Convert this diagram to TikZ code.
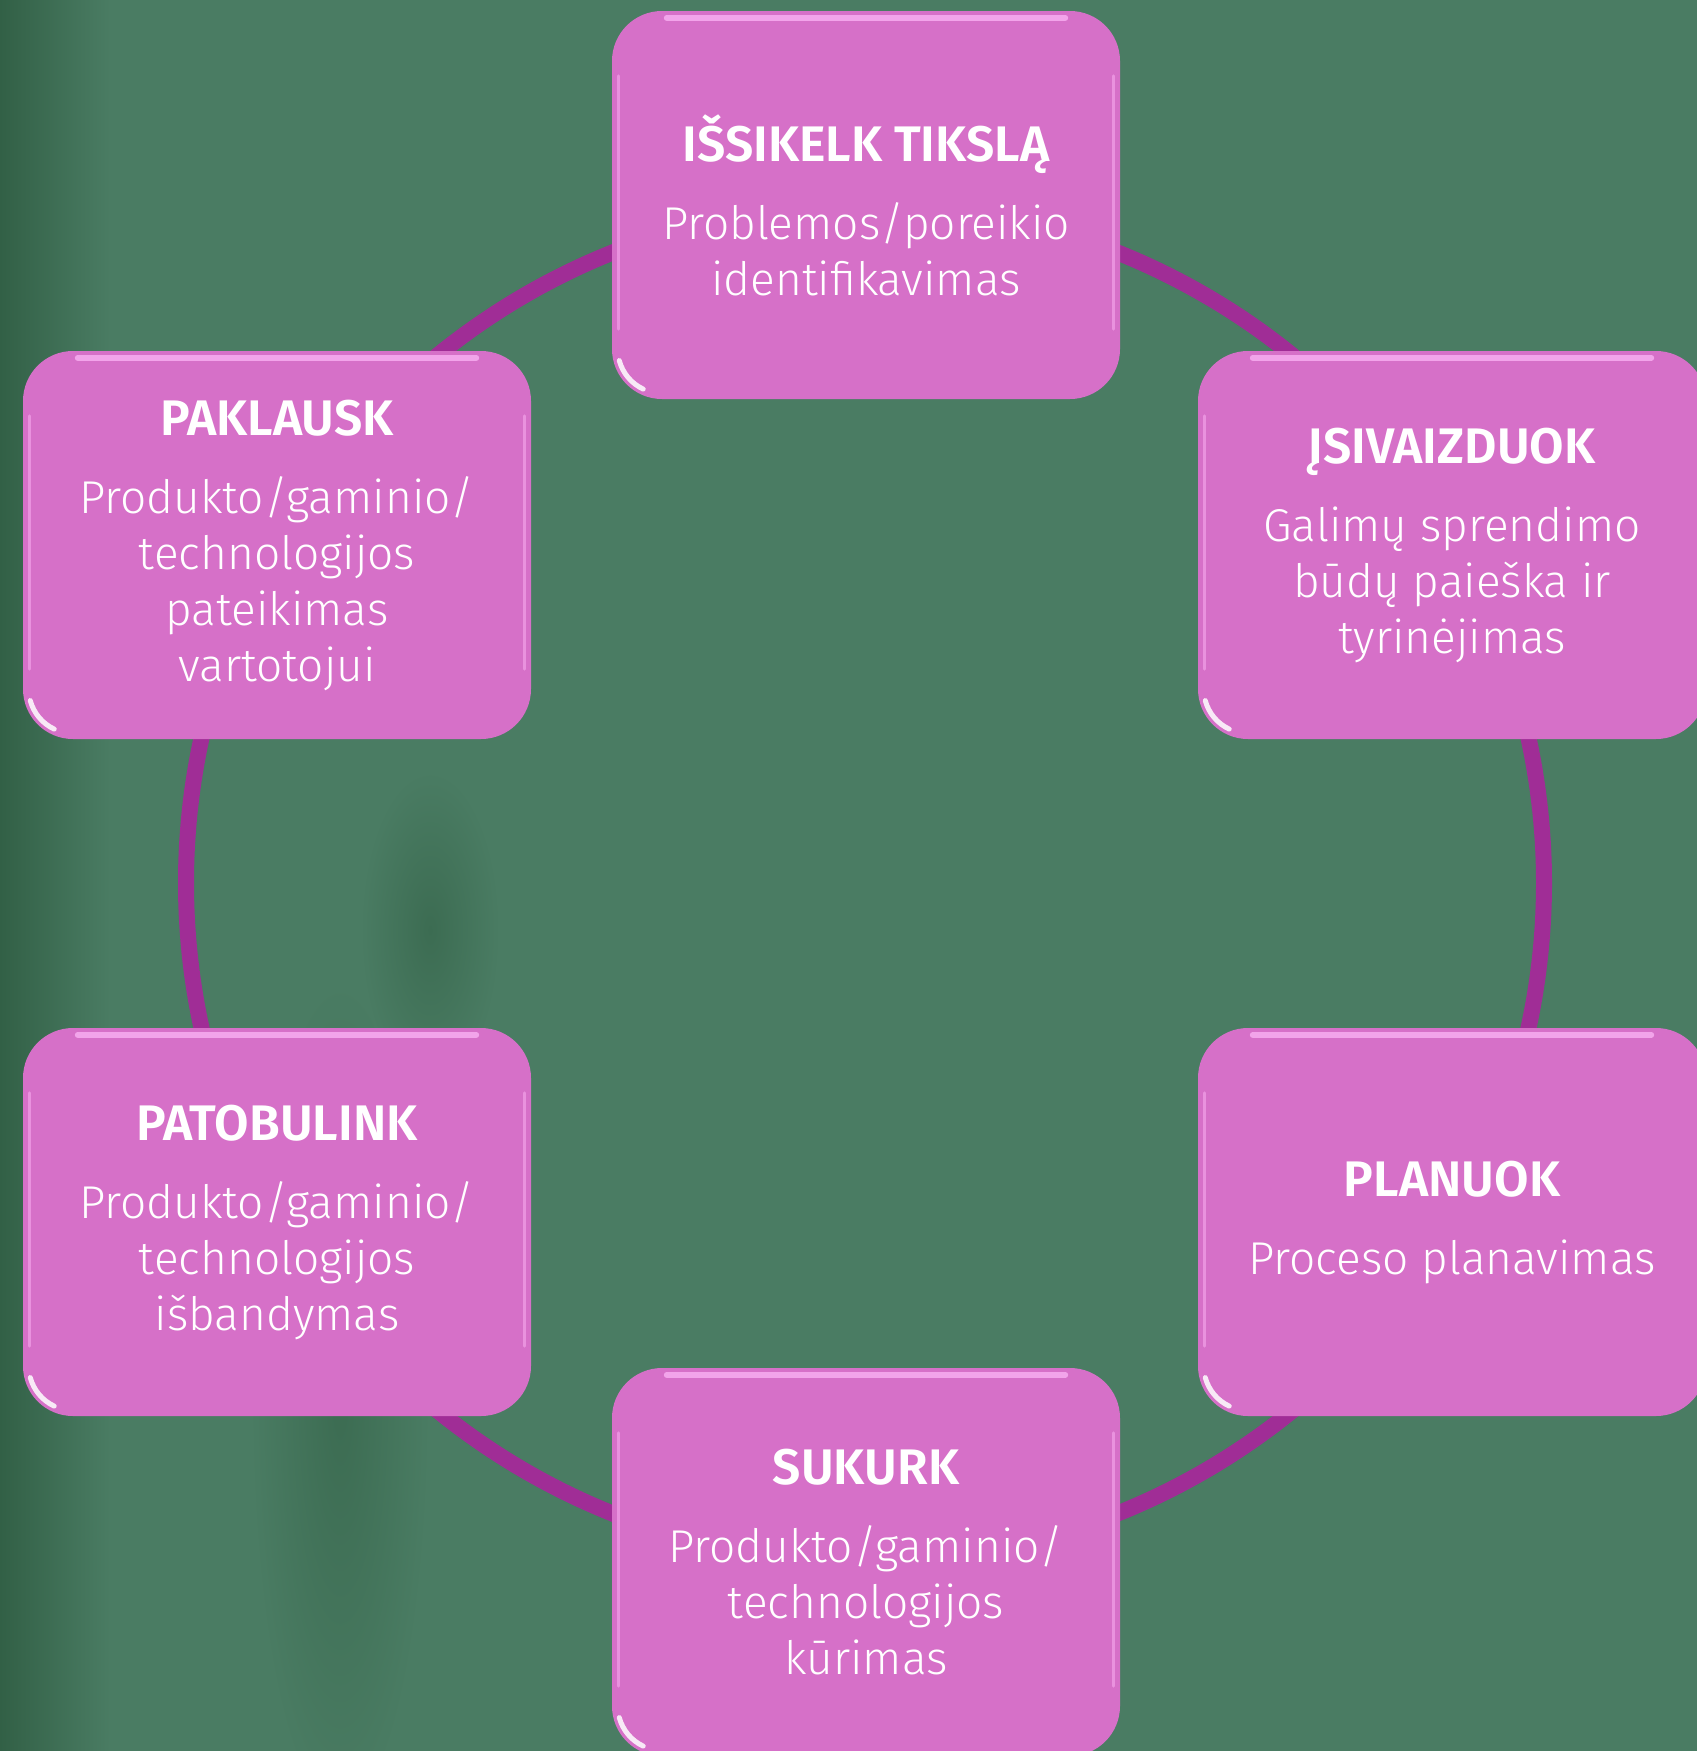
\documentclass[tikz,border=0pt]{standalone}
\usepackage{fontspec}
\setmainfont{Fira Sans Light}[BoldFont={Fira Sans SemiBold}]
\definecolor{bg}{RGB}{74,124,99}
\definecolor{bgdark}{RGB}{50,96,70}
\definecolor{bgmid}{RGB}{60,108,82}
\definecolor{boxfill}{RGB}{214,112,200}
\definecolor{ring}{RGB}{160,45,150}
\definecolor{hlpink}{RGB}{246,170,238}
\newcommand{\steptitle}[1]{{\fontsize{50}{56}\selectfont\bfseries #1}}
\begin{document}
\begin{tikzpicture}[x=1pt,y=-1pt,
  stepbox/.style={rectangle, rounded corners=50pt, fill=boxfill,
    minimum width=508pt, minimum height=388pt, inner sep=0pt,
    text=white, align=center, font=\fontsize{46}{56}\selectfont},
  ringline/.style={draw=ring, line width=16pt},
  hltop/.style={draw=hlpink, line width=6pt, line cap=round, opacity=0.9},
  hlside/.style={draw=hlpink, line width=3pt, line cap=round, opacity=0.6},
  hlgloss/.style={draw=white, line width=5pt, line cap=round, opacity=0.85}]
\useasboundingbox (0,0) rectangle (1697,1751);
\clip (0,0) rectangle (1697,1751);
% background
\fill[bg] (0,0) rectangle (1697,1751);
\shade[left color=bgdark, right color=bg] (0,0) rectangle (110,1751);
\shade[inner color=bgmid, outer color=bg] (340,1400) ellipse [x radius=90, y radius=420];
\shade[inner color=bgmid, outer color=bg] (430,930) ellipse [x radius=70, y radius=160];
% ring
\coordinate (c) at (865,883);
\draw[ringline] (c) circle[radius=679];
% steps
\node[stepbox] (tikslas) at (866,205)
  {\steptitle{IŠSIKELK TIKSLĄ}\\[22pt]Problemos/poreikio\\identifikavimas};
\node[stepbox] (isivaizduok) at (1452,545)
  {\steptitle{ĮSIVAIZDUOK}\\[22pt]Galimų sprendimo\\būdų paieška ir\\tyrinėjimas};
\node[stepbox] (planuok) at (1452,1222)
  {\steptitle{PLANUOK}\\[22pt]Proceso planavimas};
\node[stepbox] (sukurk) at (866,1562)
  {\steptitle{SUKURK}\\[22pt]Produkto/gaminio/\\technologijos\\kūrimas};
\node[stepbox] (patobulink) at (277,1222)
  {\steptitle{PATOBULINK}\\[22pt]Produkto/gaminio/\\technologijos\\išbandymas};
\node[stepbox] (paklausk) at (277,545)
  {\steptitle{PAKLAUSK}\\[22pt]Produkto/gaminio/\\technologijos\\pateikimas\\vartotojui};
% glossy highlights
\foreach \n in {tikslas,isivaizduok,planuok,sukurk,patobulink,paklausk}{
  \draw[hltop] ([shift={(55pt,-7pt)}]\n.north west) -- ([shift={(-55pt,-7pt)}]\n.north east);
  \draw[hlside] ([shift={(7pt,-65pt)}]\n.north west) -- ([shift={(7pt,70pt)}]\n.south west);
  \draw[hlside] ([shift={(-7pt,-65pt)}]\n.north east) -- ([shift={(-7pt,70pt)}]\n.south east);
  \draw[hlgloss] ([shift={(50pt,50pt)}]\n.south west) ++(195:44pt) arc[start angle=195, end angle=245, radius=44pt];
}
\end{tikzpicture}
\end{document}
